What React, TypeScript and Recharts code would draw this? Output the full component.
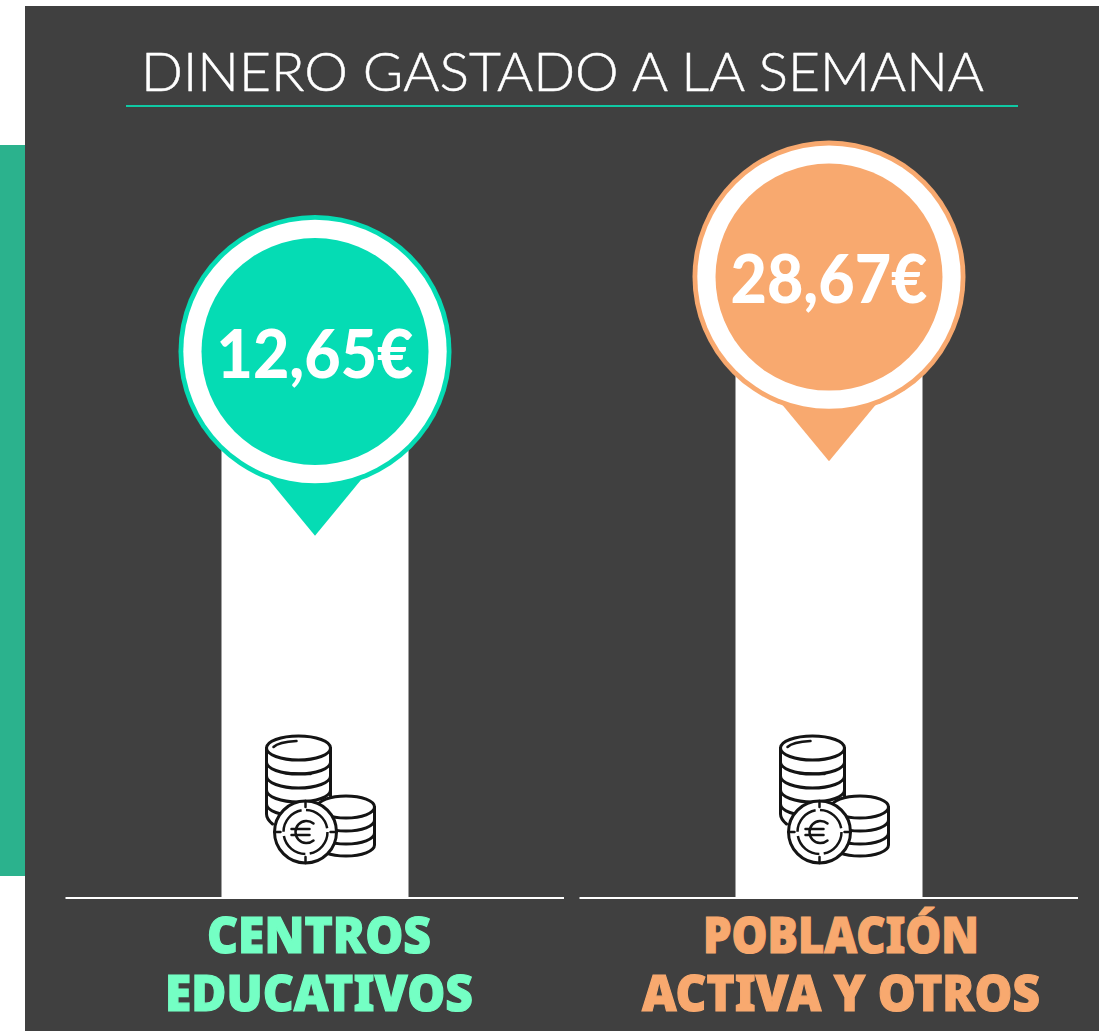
import React from "react";
import { BarChart, Bar, XAxis, YAxis } from "recharts";

const TITLE = "DINERO GASTADO A LA SEMANA";
const categories = [["CENTROS", "EDUCATIVOS"], ["POBLACIÓN", "ACTIVA Y OTROS"]];
const categoryKeys = ["CENTROS EDUCATIVOS", "POBLACIÓN ACTIVA Y OTROS"];
const weeklySpend = [12.65, 28.67];

const AXIS_MIN = -84.1;
const AXIS_MAX = 109.2;

const data = categoryKeys.map((name, i) => ({ name, range: [AXIS_MIN, weeklySpend[i]] }));

const pinColors = ["#05DCB4", "#F8A96F"];
const labelColors = ["#74FFC4", "#F8A96F"];
const labelDx = [4.5, 12.5];
const labelWidths = [[224, 308], [276, 398]];

const W = 1102;
const H = 1031;

function CoinIcon({ cx, base }: { cx: number; base: number }) {
  const s = { fill: "none", stroke: "#141414", strokeWidth: 3, strokeLinecap: "round" as const };
  const f = { ...s, fill: "#fff" };
  const arc = (rx: number, ry: number, y: number, x0 = 0) =>
    `M${x0 - rx} ${y}A${rx} ${ry} 0 0 0 ${x0 + rx} ${y}`;
  return (
    <g transform={`translate(${cx - 16.5},${base - 150})`}>
      <path d="M-32 0L-32 66Q-32 71 -26 76M32 0L32 48" {...s} />
      {[14, 28, 42, 56].map((y) => <path key={y} d={arc(32, 12, y)} {...s} />)}
      <ellipse cx={0} cy={0} rx={32} ry={12} {...f} />
      <path d="M-25 -1Q-20 -6 -2 -7" {...s} strokeWidth={2.5} />
      <path d="M-13 25L12 26" {...s} strokeWidth={2.5} />
      <path d="M19 59L19 97A28.5 11 0 0 0 76 97L76 59" {...s} />
      {[13, 26].map((y) => <path key={y} d={arc(28.5, 11, 59 + y, 47.5)} {...s} />)}
      <ellipse cx={47.5} cy={59} rx={28.5} ry={11} {...f} />
      <circle cx={7} cy={84} r={31} {...f} />
      <circle cx={7} cy={84} r={22} fill="none" stroke="#141414" strokeWidth={2.5} strokeDasharray="30 4.5" />
      <path d="M7 53V59M7 109V115M-24 84H-18M32 84H38" {...s} strokeWidth={2.5} />
      <path d="M15 75.5A11 11 0 1 0 15 92.5M-7 81H11M-7 87H11" {...s} strokeWidth={2.5} />
    </g>
  );
}

function PinBar(props: any) {
  const { x, y, width, height, index } = props;
  const color = pinColors[index];
  const cx = x + width / 2;
  const cy = y - 97;
  const base = y + height;
  const label = `${weeklySpend[index].toFixed(2).replace(".", ",")}€`;
  return (
    <g>
      <rect x={x} y={y} width={width} height={height} fill="#fff" />
      <circle cx={cx} cy={cy} r={136.5} fill={color} />
      <path d={`M${cx - 46.5} ${cy + 127.8}L${cx + 46.5} ${cy + 127.8}L${cx} ${cy + 184.2}Z`} fill={color} />
      <circle cx={cx} cy={cy} r={131.7} fill="#fff" />
      <circle cx={cx} cy={cy} r={113.5} fill={color} />
      <text
        x={cx}
        y={cy + 26}
        textAnchor="middle"
        fill="#fff"
        fontFamily="Lato"
        fontWeight={900}
        fontSize={66}
        textLength={197}
        lengthAdjust="spacingAndGlyphs"
      >
        {label}
      </text>
      <CoinIcon cx={cx} base={base} />
    </g>
  );
}

function CategoryTick(props: any) {
  const { x, y, index } = props;
  const lines = categories[index];
  const color = labelColors[index];
  return (
    <g>
      <line x1={x - 249} x2={x + 249.5} y1={y} y2={y} stroke="#fff" strokeWidth={2} />
      {lines.map((line, i) => (
        <text
          key={line}
          x={x + labelDx[index]}
          y={y + 55 + i * 57.5}
          textAnchor="middle"
          fill={color}
          stroke={color}
          strokeWidth={1.2}
          fontFamily="Noto Sans"
          fontWeight={900}
          fontSize={49}
          textLength={labelWidths[index][i]}
          lengthAdjust="spacingAndGlyphs"
        >
          {line}
        </text>
      ))}
    </g>
  );
}

export default function App() {
  return (
    <div style={{ position: "absolute", left: 0, top: 0, width: W, height: H, overflow: "hidden", background: "#fff" }}>
      <div style={{ position: "absolute", left: 0, top: 145, width: 25, height: 731, background: "#2BB28D" }} />
      <div style={{ position: "absolute", left: 25, top: 6, width: 1074, height: 1025, background: "#404040" }} />
      <div style={{ position: "absolute", left: 0, top: 0 }}>
        <BarChart
          width={W}
          height={H}
          data={data}
          margin={{ top: 0, right: 16.5, bottom: 0, left: 57.5 }}
          barSize={187}
        >
          <text
            x={562.5}
            y={91}
            textAnchor="middle"
            fill="#fff"
            stroke="#fff"
            strokeWidth={0.5}
            fontFamily="Lato"
            fontWeight={300}
            fontSize={54}
            textLength={843}
            lengthAdjust="spacingAndGlyphs"
          >
            {TITLE}
          </text>
          <rect x={126} y={105} width={892} height={2} fill="#0FC9A4" />
          <XAxis
            dataKey="name"
            axisLine={false}
            tickLine={false}
            tickSize={0}
            tickMargin={0}
            height={133}
            interval={0}
            tick={<CategoryTick />}
          />
          <YAxis hide domain={[AXIS_MIN, AXIS_MAX]} />
          <Bar dataKey="range" isAnimationActive={false} shape={<PinBar />} />
        </BarChart>
      </div>
    </div>
  );
}
